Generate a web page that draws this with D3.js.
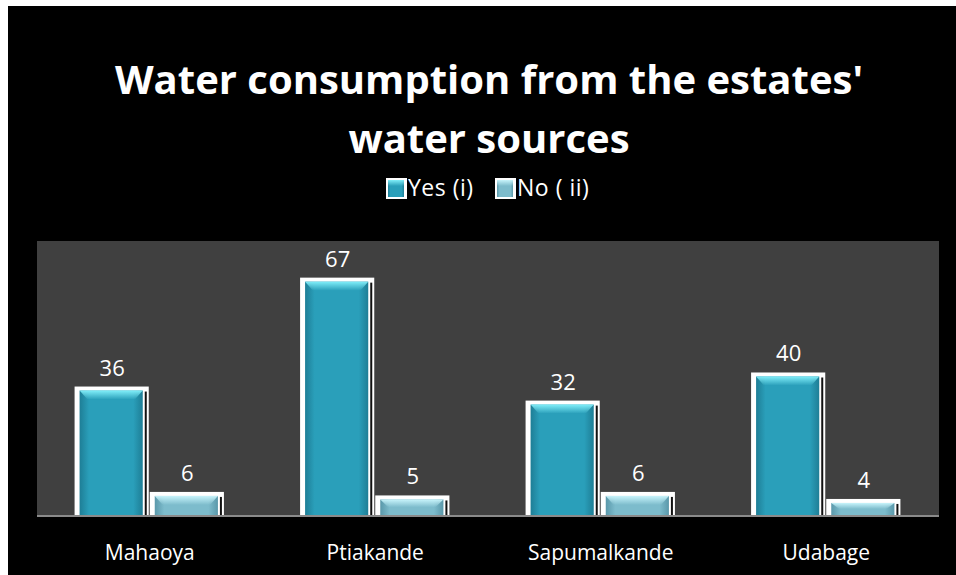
<!DOCTYPE html>
<html>
<head>
<meta charset="utf-8">
<script src="https://cdn.jsdelivr.net/npm/d3@7"></script>
<style>
  html, body { margin: 0; background: #000; overflow: hidden; }
  svg { display: block; }
  text { font-family: "Open Sans", "Liberation Sans", sans-serif; fill: #fff; }
</style>
</head>
<body>
<svg id="chart" width="956" height="575"></svg>
<script>
// chart data
const CATEGORIES = ["Mahaoya", "Ptiakande", "Sapumalkande", "Udabage"];
const SERIES = ["Yes (i)", "No ( ii)"];
const YES_VALUES = [36, 67, 32, 40];
const NO_VALUES = [6, 5, 6, 4];
const TITLE_LINES = ["Water consumption from the estates'", "water sources"];

const W = 956, H = 575;
const PLOT = { left: 37, right: 939, top: 241, bottom: 515 };

const svg = d3.select("#chart");

// white frame strips on top/left, black everywhere else
svg.append("rect").attr("width", W).attr("height", H).attr("fill", "#fff");
svg.append("rect").attr("x", 8).attr("y", 6).attr("width", W - 8).attr("height", H - 6).attr("fill", "#000");

const defs = svg.append("defs");
function barGradient(id, dark, mid, light) {
    const g = defs.append("linearGradient").attr("id", id).attr("x1", 0).attr("x2", 1).attr("y1", 0).attr("y2", 0);
    g.append("stop").attr("offset", "0%").attr("stop-color", dark);
    g.append("stop").attr("offset", "15%").attr("stop-color", mid);
    g.append("stop").attr("offset", "85%").attr("stop-color", mid);
    g.append("stop").attr("offset", "100%").attr("stop-color", dark);
    const t = defs.append("linearGradient").attr("id", id + "-top").attr("x1", 0).attr("x2", 0).attr("y1", 0).attr("y2", 1);
    t.append("stop").attr("offset", "0%").attr("stop-color", light).attr("stop-opacity", 1);
    t.append("stop").attr("offset", "100%").attr("stop-color", light).attr("stop-opacity", 0);
}
barGradient("g-yes", "#1e7e96", "#2a9fba", "#80eef9");
barGradient("g-no", "#5a98aa", "#7dbccc", "#c8f4fb");

// plot area
svg.append("rect")
    .attr("x", PLOT.left).attr("y", PLOT.top)
    .attr("width", PLOT.right - PLOT.left).attr("height", PLOT.bottom - PLOT.top)
    .attr("fill", "#404040");

const x0 = d3.scaleBand().domain(CATEGORIES).range([PLOT.left, PLOT.right])
    .paddingInner(1 / 3).paddingOuter(1 / 6);
const x1 = d3.scaleBand().domain(SERIES).range([0, x0.bandwidth()]);
const y = d3.scaleLinear().domain([0, 78]).range([PLOT.bottom, PLOT.top]);

const rows = CATEGORIES.map((c, i) => [
    { cat: c, key: SERIES[0], value: YES_VALUES[i], grad: "g-yes" },
    { cat: c, key: SERIES[1], value: NO_VALUES[i], grad: "g-no" },
]).flat();

const bars = svg.append("g").selectAll("g").data(rows).join("g")
    .attr("transform", d => `translate(${x0(d.cat) + x1(d.key)},0)`);

const bw = x1.bandwidth();
// white outline
bars.append("rect")
    .attr("x", 0).attr("y", d => y(d.value) - 2)
    .attr("width", bw - 1).attr("height", d => PLOT.bottom - y(d.value) + 2)
    .attr("fill", "#fff");
// dark edge on the right
bars.append("rect")
    .attr("x", bw - 5).attr("y", d => y(d.value) + 3)
    .attr("width", 2).attr("height", d => PLOT.bottom - y(d.value) - 3)
    .attr("fill", "#111");
bars.append("rect")
    .attr("x", 5).attr("y", d => y(d.value) + 2)
    .attr("width", bw - 12).attr("height", d => PLOT.bottom - y(d.value) - 2)
    .attr("fill", d => `url(#${d.grad})`);
// top bevel highlight
bars.append("path")
    .attr("d", d => {
        const t = y(d.value) + 2, w = bw - 12, h = Math.min(9, (PLOT.bottom - t) / 2);
        return `M5,${t}h${w}l-8,${h}h${-(w - 16)}z`;
    })
    .attr("fill", d => `url(#${d.grad}-top)`);

// value labels
bars.append("text")
    .attr("x", bw / 2)
    .attr("y", d => y(d.value) - 13)
    .attr("text-anchor", "middle")
    .attr("font-size", 22)
    .text(d => d.value);

// axis line
svg.append("line")
    .attr("x1", PLOT.left).attr("x2", PLOT.right)
    .attr("y1", PLOT.bottom + 1).attr("y2", PLOT.bottom + 1)
    .attr("stroke", "#8a8a8a").attr("stroke-width", 2);

// category labels
svg.append("g").selectAll("text").data(CATEGORIES).join("text")
    .attr("x", d => x0(d) + x0.bandwidth() / 2)
    .attr("y", 560)
    .attr("text-anchor", "middle")
    .attr("font-size", 21)
    .text(d => d);

// title
svg.append("g").selectAll("text").data(TITLE_LINES).join("text")
    .attr("x", 489).attr("y", (d, i) => 94 + i * 59)
    .attr("text-anchor", "middle")
    .attr("font-size", 40).attr("font-weight", "bold")
    .text(d => d);

// legend
const legendItems = [{ label: SERIES[0], grad: "g-yes", x: 386 }, { label: SERIES[1], grad: "g-no", x: 495 }];
const lg = svg.append("g").selectAll("g").data(legendItems).join("g")
    .attr("transform", d => `translate(${d.x},178)`);
lg.append("rect").attr("width", 21).attr("height", 21).attr("fill", "#fff");
lg.append("rect").attr("x", 2).attr("y", 2).attr("width", 16).attr("height", 17).attr("fill", d => `url(#${d.grad})`);
lg.append("rect").attr("x", 2).attr("y", 2).attr("width", 16).attr("height", 6).attr("fill", d => `url(#${d.grad}-top)`);
lg.append("text").attr("x", 22).attr("y", 18).attr("font-size", 23).attr("letter-spacing", 0.5).text(d => d.label);
</script>
</body>
</html>
